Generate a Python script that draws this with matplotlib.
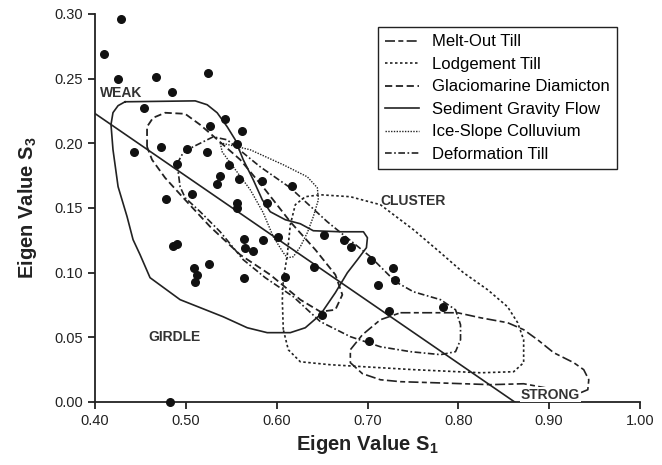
import numpy as np
import matplotlib.pyplot as plt

plt.rcParams['font.family'] = ['Liberation Sans', 'DejaVu Sans']
plt.rcParams['mathtext.fontset'] = 'custom'
plt.rcParams['mathtext.rm'] = 'Liberation Sans'
plt.rcParams['mathtext.bf'] = 'Liberation Sans:bold'

ink = '#222222'

# sample points (S1, S3)
s1 = [0.4287, 0.4096, 0.425, 0.467, 0.524, 0.4853, 0.454, 0.543, 0.527, 0.5617,
      0.556, 0.4724, 0.443, 0.501, 0.523, 0.4907, 0.547, 0.538, 0.559, 0.5348,
      0.5838, 0.5066, 0.478, 0.6168, 0.5568, 0.5568, 0.589, 0.6525, 0.6745, 0.682,
      0.5635, 0.585, 0.601, 0.565, 0.5734, 0.526, 0.5635, 0.6095, 0.6415, 0.704,
      0.728, 0.7307, 0.711, 0.7234, 0.7833, 0.65, 0.702, 0.4863, 0.4907, 0.509,
      0.512, 0.510, 0.4827]
s3 = [0.296, 0.269, 0.250, 0.251, 0.254, 0.240, 0.227, 0.219, 0.213, 0.2097,
      0.1997, 0.197, 0.193, 0.1955, 0.193, 0.184, 0.183, 0.175, 0.1726, 0.1687,
      0.171, 0.161, 0.157, 0.1667, 0.154, 0.150, 0.154, 0.1293, 0.1249, 0.120,
      0.126, 0.125, 0.1275, 0.119, 0.1164, 0.107, 0.0958, 0.0963, 0.104, 0.1094,
      0.1035, 0.0945, 0.0906, 0.070, 0.0734, 0.067, 0.0474, 0.1208, 0.1224, 0.1035,
      0.098, 0.0925, 0.000]

# trend line
fit_s1 = [0.40, 0.862]
fit_s3 = [0.223, 0.0]

# envelope outlines
melt_s1 = [0.7363, 0.7727, 0.7991, 0.8245, 0.8542, 0.8719, 0.8873, 0.9050, 0.9270, 0.9380,
           0.9436, 0.9425, 0.9347, 0.9072, 0.8719, 0.8355, 0.7727, 0.7363, 0.7142, 0.6944,
           0.6811, 0.6811, 0.6944, 0.7142]
melt_s3 = [0.0690, 0.0690, 0.0690, 0.0651, 0.0613, 0.0559, 0.0481, 0.0381, 0.0304, 0.0250,
           0.0172, 0.0095, 0.0072, 0.0095, 0.0141, 0.0134, 0.0149, 0.0157, 0.0172, 0.0219,
           0.0304, 0.0404, 0.0520, 0.0636]

lodge_s1 = [0.6073, 0.6062, 0.6073, 0.6117, 0.6150, 0.6205, 0.6315, 0.6481, 0.6811, 0.7142,
            0.7506, 0.7804, 0.8057, 0.8322, 0.8542, 0.8653, 0.8719, 0.8719, 0.8609, 0.8245,
            0.7506, 0.7142, 0.6591, 0.6260, 0.6128]
lodge_s3 = [0.0559, 0.0791, 0.0945, 0.1138, 0.1370, 0.1525, 0.1587, 0.1602, 0.1587, 0.1525,
            0.1332, 0.1154, 0.0999, 0.0868, 0.0736, 0.0613, 0.0481, 0.0304, 0.0234, 0.0226,
            0.0250, 0.0265, 0.0288, 0.0311, 0.0404]

glacio_s1 = [0.4573, 0.4573, 0.4639, 0.4772, 0.4992, 0.5158, 0.5323, 0.5599, 0.5874, 0.6150,
             0.6426, 0.6646, 0.6723, 0.6646, 0.6481, 0.6260, 0.5929, 0.5599, 0.5268, 0.4992,
             0.4772, 0.4628]
glacio_s3 = [0.1973, 0.2128, 0.2197, 0.2236, 0.2228, 0.2143, 0.2043, 0.1873, 0.1641, 0.1393,
             0.1177, 0.0984, 0.0829, 0.0713, 0.0698, 0.0791, 0.0984, 0.1138, 0.1355, 0.1563,
             0.1733, 0.1873]

sgf_s1 = [0.4331, 0.5103, 0.5235, 0.5345, 0.5455, 0.5543, 0.5632, 0.5742, 0.5841, 0.5929,
          0.6095, 0.6260, 0.6403, 0.6701, 0.6955, 0.6999, 0.6988, 0.6889, 0.6778, 0.6646,
          0.6481, 0.6315, 0.6150, 0.5896, 0.5676, 0.5411, 0.4937, 0.4606, 0.4496, 0.4419,
          0.4353, 0.4254, 0.4198, 0.4176, 0.4198, 0.4254]
sgf_s3 = [0.2321, 0.2328, 0.2298, 0.2236, 0.2128, 0.2028, 0.1873, 0.1718, 0.1564, 0.1471,
          0.1409, 0.1378, 0.1324, 0.1316, 0.1316, 0.1270, 0.1193, 0.1100, 0.0999, 0.0845,
          0.0675, 0.0574, 0.0536, 0.0536, 0.0574, 0.0659, 0.0791, 0.0961, 0.1139, 0.1255,
          0.1433, 0.1665, 0.1951, 0.2145, 0.2237, 0.2291]

ice_s1 = [0.5378, 0.5709, 0.6073, 0.6337, 0.6448, 0.6459, 0.6403, 0.6337, 0.6260, 0.6183,
          0.6117, 0.6073, 0.5963, 0.5852, 0.5709, 0.5522, 0.5400]
ice_s3 = [0.2004, 0.1950, 0.1834, 0.1741, 0.1656, 0.1563, 0.1432, 0.1308, 0.1200, 0.1123,
          0.1115, 0.1154, 0.1277, 0.1463, 0.1641, 0.1818, 0.1934]

deform_s1 = [0.4904, 0.4970, 0.5080, 0.5301, 0.5455, 0.5819, 0.6150, 0.6558, 0.7032, 0.7308,
             0.7506, 0.7804, 0.7969, 0.8024, 0.8024, 0.7969, 0.7804, 0.7473, 0.7142, 0.6811,
             0.6481, 0.6183, 0.5874, 0.5632, 0.5378, 0.5158, 0.4992, 0.4937]
deform_s3 = [0.1842, 0.1927, 0.1973, 0.2050, 0.2027, 0.1818, 0.1656, 0.1393, 0.1123, 0.0930,
             0.0852, 0.0791, 0.0713, 0.0597, 0.0481, 0.0389, 0.0366, 0.0389, 0.0427, 0.0505,
             0.0621, 0.0814, 0.0961, 0.1100, 0.1316, 0.1471, 0.1579, 0.1664]

envelopes = [
    ('Melt-Out Till', melt_s1, melt_s3, (0, (6, 2, 3, 2)), 1.2),
    ('Lodgement Till', lodge_s1, lodge_s3, (0, (1.5, 1.5)), 1.2),
    ('Glaciomarine Diamicton', glacio_s1, glacio_s3, (0, (4, 2)), 1.3),
    ('Sediment Gravity Flow', sgf_s1, sgf_s3, '-', 1.2),
    ('Ice-Slope Colluvium', ice_s1, ice_s3, (0, (1, 1)), 1.0),
    ('Deformation Till', deform_s1, deform_s3, (0, (4, 1.5, 1, 1.5)), 1.2),
]

fig = plt.figure(figsize=(6.62, 4.65), dpi=100)
ax = fig.add_axes([0.1435, 0.1355, 0.8233, 0.8345])

for name, xs, ys, ls, lw in envelopes:
    ax.plot(np.append(xs, xs[0]), np.append(ys, ys[0]), color=ink, lw=lw,
            linestyle=ls, label=name)

ax.plot(fit_s1, fit_s3, color=ink, lw=1.2)
ax.scatter(s1, s3, s=30, color='#111111', zorder=5, clip_on=False)

lab = dict(fontsize=10, fontweight='bold', color='#333333')
ax.text(0.406, 0.239, 'WEAK', ha='left', va='center', **lab)
ax.text(0.488, 0.050, 'GIRDLE', ha='center', va='center', **lab)
ax.text(0.7506, 0.1556, 'CLUSTER', ha='center', va='center', **lab)
ax.text(0.9016, 0.0056, 'STRONG', ha='center', va='center',
        bbox=dict(facecolor='white', edgecolor='none', pad=0.5), **lab)

ax.set_xlim(0.40, 1.00)
ax.set_ylim(0.0, 0.30)
ax.set_xticks(np.arange(0.40, 1.001, 0.10))
ax.set_yticks(np.arange(0.0, 0.301, 0.05))
ax.xaxis.set_major_formatter(plt.FormatStrFormatter('%.2f'))
ax.yaxis.set_major_formatter(plt.FormatStrFormatter('%.2f'))
ax.tick_params(direction='out', length=5, width=1.3, labelsize=10.5, colors=ink)
for side in ['top', 'right']:
    ax.spines[side].set_visible(False)
for side in ['left', 'bottom']:
    ax.spines[side].set_linewidth(1.3)
    ax.spines[side].set_color(ink)

ax.set_xlabel(r'Eigen Value S$_\mathbf{1}$', fontsize=14.5, fontweight='bold', color=ink, labelpad=4)
ax.set_ylabel(r'Eigen Value S$_\mathbf{3}$', fontsize=14.5, fontweight='bold', color=ink, labelpad=11)

leg = ax.legend(loc='upper right', bbox_to_anchor=(0.958, 0.9665), borderaxespad=0,
                fontsize=12, frameon=True, fancybox=False, edgecolor=ink, framealpha=1,
                handlelength=2.0, labelspacing=0.45, borderpad=0.45, handletextpad=0.8)
leg.get_frame().set_linewidth(1.0)

plt.savefig('out.png', dpi=100)
